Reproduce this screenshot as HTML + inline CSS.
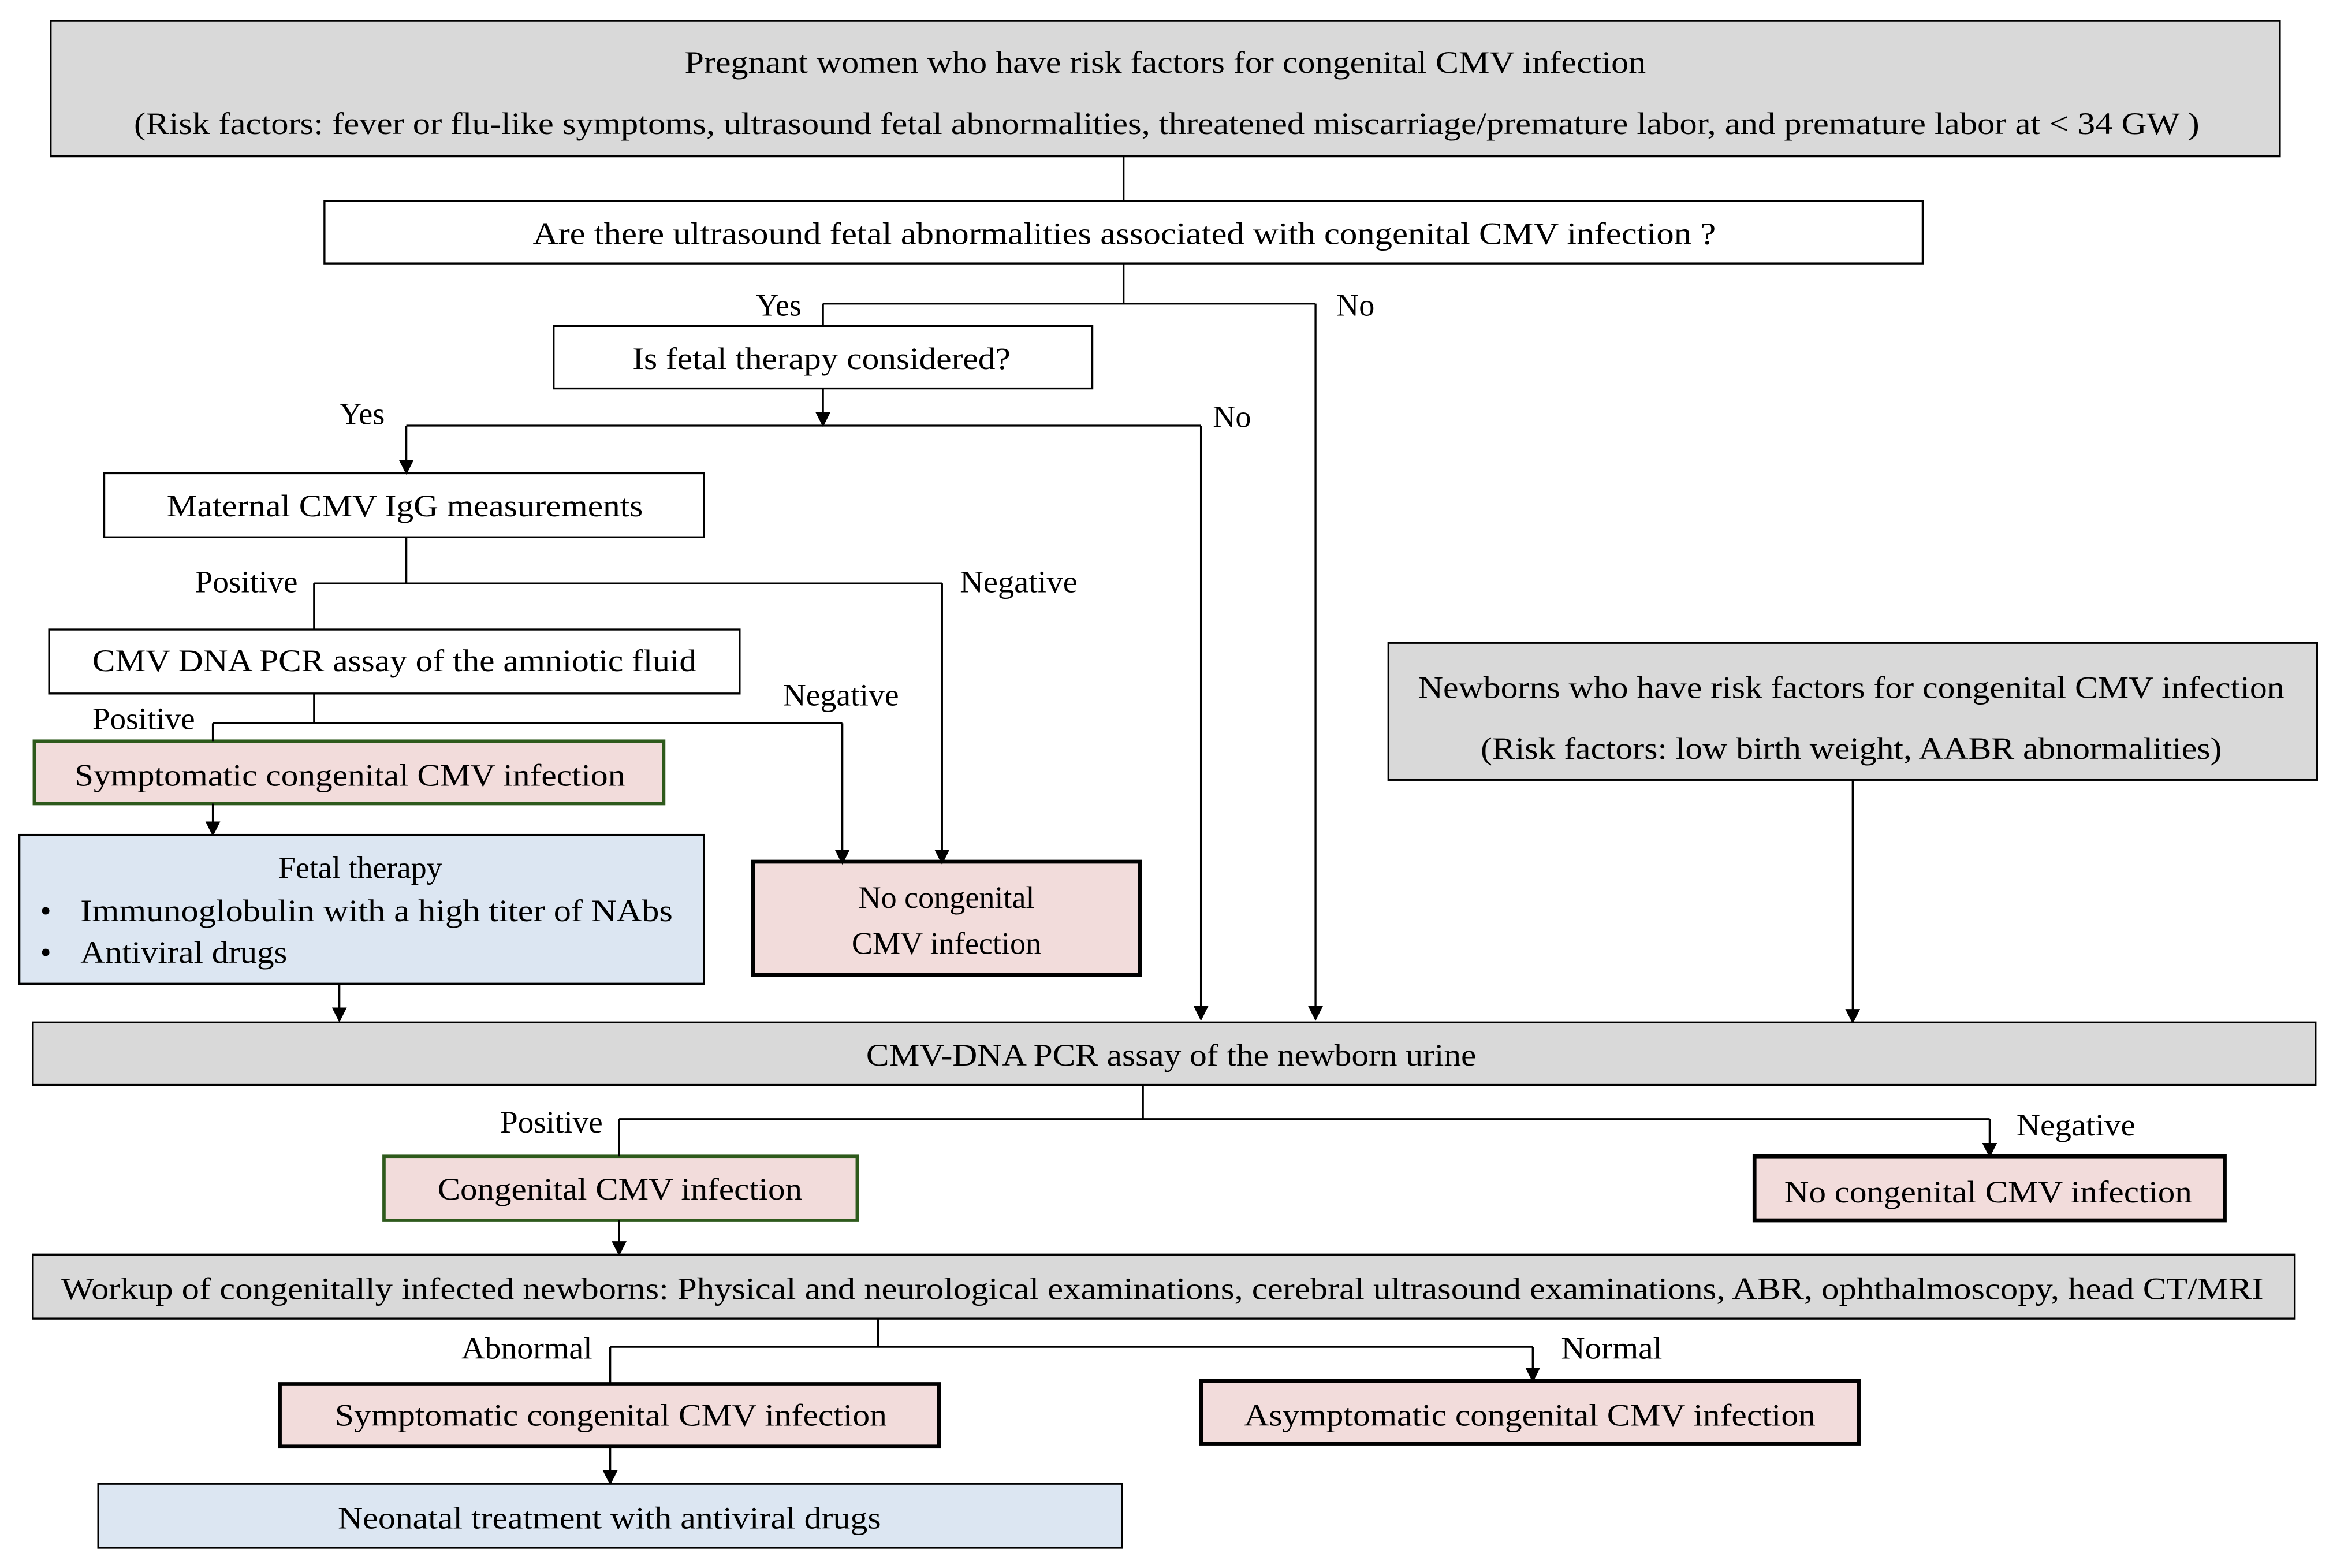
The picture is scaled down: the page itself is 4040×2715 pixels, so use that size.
<!DOCTYPE html>
<html><head><meta charset="utf-8"><style>html,body{margin:0;padding:0;background:#fff}svg{display:block}</style></head>
<body>
<svg width="4040" height="2715" viewBox="0 0 1567.7 1053.6" xmlns="http://www.w3.org/2000/svg" font-family="Liberation Serif, serif" font-size="21" fill="#000">
<defs><marker id="a" markerWidth="10" markerHeight="10" refX="5" refY="9" orient="auto" markerUnits="userSpaceOnUse" viewBox="0 0 10 10"><path d="M0,0 L10,0 L5,10 z" fill="#000" transform="rotate(-90 5 5)"/></marker>
<marker id="d" markerWidth="10" markerHeight="10" refX="5" refY="9" markerUnits="userSpaceOnUse" viewBox="0 0 10 10"><path d="M0,0 L10,0 L5,10 z" fill="#000"/></marker></defs>
<g stroke="#000" stroke-width="1.3" fill="none">
<rect x="34" y="14" width="1498" height="91" fill="#d9d9d9"/>
<rect x="218" y="135" width="1074" height="42" fill="#fff"/>
<rect x="372" y="219" width="362" height="42" fill="#fff"/>
<rect x="70" y="318" width="403" height="43" fill="#fff"/>
<rect x="33" y="423" width="464" height="43" fill="#fff"/>
<rect x="23" y="498" width="423" height="42" fill="#f2dcdb" stroke="#2e5a1c" stroke-width="2.2"/>
<rect x="13" y="561" width="460" height="100" fill="#dce6f2"/>
<rect x="506" y="579" width="260" height="76" fill="#f2dcdb" stroke-width="2.6"/>
<rect x="933" y="432" width="624" height="92" fill="#d9d9d9"/>
<rect x="22" y="687" width="1534" height="42" fill="#d9d9d9"/>
<rect x="258" y="777" width="318" height="43" fill="#f2dcdb" stroke="#2e5a1c" stroke-width="2.2"/>
<rect x="1179" y="777" width="316" height="43" fill="#f2dcdb" stroke-width="2.6"/>
<rect x="22" y="843" width="1520" height="43" fill="#d9d9d9"/>
<rect x="188" y="930" width="443" height="42" fill="#f2dcdb" stroke-width="2.6"/>
<rect x="807" y="928" width="442" height="42" fill="#f2dcdb" stroke-width="2.6"/>
<rect x="66" y="997" width="688" height="43" fill="#dce6f2"/>
<path d="M755,105V135M755,177V204M553,204H884M553,204V219"/>
<path d="M884,204V685" marker-end="url(#d)"/>
<path d="M553,261V286" marker-end="url(#d)"/>
<path d="M273,286H807M273,286V318" marker-end="url(#d)"/>
<path d="M807,286V685" marker-end="url(#d)"/>
<path d="M273,361V392M211,392H633M211,392V423"/>
<path d="M633,392V580" marker-end="url(#d)"/>
<path d="M211,466V486M143,486H566M143,486V498"/>
<path d="M566,486V580" marker-end="url(#d)"/>
<path d="M143,540V561" marker-end="url(#d)"/>
<path d="M228,661V686" marker-end="url(#d)"/>
<path d="M1245,524V687" marker-end="url(#d)"/>
<path d="M768,729V752M416,752H1337M416,752V777"/>
<path d="M1337,752V777" marker-end="url(#d)"/>
<path d="M416,820V843" marker-end="url(#d)"/>
<path d="M590,886V905M410,905H1030M410,905V930"/>
<path d="M1030,905V928" marker-end="url(#d)"/>
<path d="M410,972V997" marker-end="url(#d)"/>
</g>
<g dominant-baseline="central" lengthAdjust="spacingAndGlyphs">
<text x="460" y="42" textLength="646" lengthAdjust="spacingAndGlyphs">Pregnant women who have risk factors for congenital CMV infection</text>
<text x="90" y="83" textLength="1388" lengthAdjust="spacingAndGlyphs">(Risk factors: fever or flu-like symptoms, ultrasound fetal abnormalities, threatened miscarriage/premature labor, and premature labor at &lt; 34 GW )</text>
<text x="358" y="157" textLength="795" lengthAdjust="spacingAndGlyphs">Are there ultrasound fetal abnormalities associated with congenital CMV infection ?</text>
<text x="508" y="205">Yes</text>
<text x="898" y="205">No</text>
<text x="425" y="241" textLength="254" lengthAdjust="spacingAndGlyphs">Is fetal therapy considered?</text>
<text x="228" y="278">Yes</text>
<text x="815" y="280">No</text>
<text x="112" y="340" textLength="320" lengthAdjust="spacingAndGlyphs">Maternal CMV IgG measurements</text>
<text x="131" y="391" textLength="69" lengthAdjust="spacingAndGlyphs">Positive</text>
<text x="645" y="391" textLength="79" lengthAdjust="spacingAndGlyphs">Negative</text>
<text x="62" y="444" textLength="406" lengthAdjust="spacingAndGlyphs">CMV DNA PCR assay of the amniotic fluid</text>
<text x="62" y="483" textLength="69" lengthAdjust="spacingAndGlyphs">Positive</text>
<text x="526" y="467" textLength="78" lengthAdjust="spacingAndGlyphs">Negative</text>
<text x="50" y="521" textLength="370" lengthAdjust="spacingAndGlyphs">Symptomatic congenital CMV infection</text>
<text x="242" y="583" text-anchor="middle">Fetal therapy</text>
<text x="27" y="612">•</text>
<text x="54" y="612" textLength="398" lengthAdjust="spacingAndGlyphs">Immunoglobulin with a high titer of NAbs</text>
<text x="27" y="640">•</text>
<text x="54" y="640" textLength="139" lengthAdjust="spacingAndGlyphs">Antiviral drugs</text>
<text x="636" y="603" text-anchor="middle">No congenital</text>
<text x="636" y="634" text-anchor="middle">CMV infection</text>
<text x="953" y="462" textLength="582" lengthAdjust="spacingAndGlyphs">Newborns who have risk factors for congenital CMV infection</text>
<text x="995" y="503" textLength="498" lengthAdjust="spacingAndGlyphs">(Risk factors: low birth weight, AABR abnormalities)</text>
<text x="582" y="709" textLength="410" lengthAdjust="spacingAndGlyphs">CMV-DNA PCR assay of the newborn urine</text>
<text x="336" y="754" textLength="69" lengthAdjust="spacingAndGlyphs">Positive</text>
<text x="1355" y="756" textLength="80" lengthAdjust="spacingAndGlyphs">Negative</text>
<text x="294" y="799" textLength="245" lengthAdjust="spacingAndGlyphs">Congenital CMV infection</text>
<text x="1199" y="801" textLength="274" lengthAdjust="spacingAndGlyphs">No congenital CMV infection</text>
<text x="41" y="866" textLength="1480" lengthAdjust="spacingAndGlyphs">Workup of congenitally infected newborns: Physical and neurological examinations, cerebral ultrasound examinations, ABR, ophthalmoscopy, head CT/MRI</text>
<text x="310" y="906" textLength="88" lengthAdjust="spacingAndGlyphs">Abnormal</text>
<text x="1049" y="906" textLength="68" lengthAdjust="spacingAndGlyphs">Normal</text>
<text x="225" y="951" textLength="371" lengthAdjust="spacingAndGlyphs">Symptomatic congenital CMV infection</text>
<text x="836" y="951" textLength="384" lengthAdjust="spacingAndGlyphs">Asymptomatic congenital CMV infection</text>
<text x="227" y="1020" textLength="365" lengthAdjust="spacingAndGlyphs">Neonatal treatment with antiviral drugs</text>
</g>
</svg>
</body></html>
